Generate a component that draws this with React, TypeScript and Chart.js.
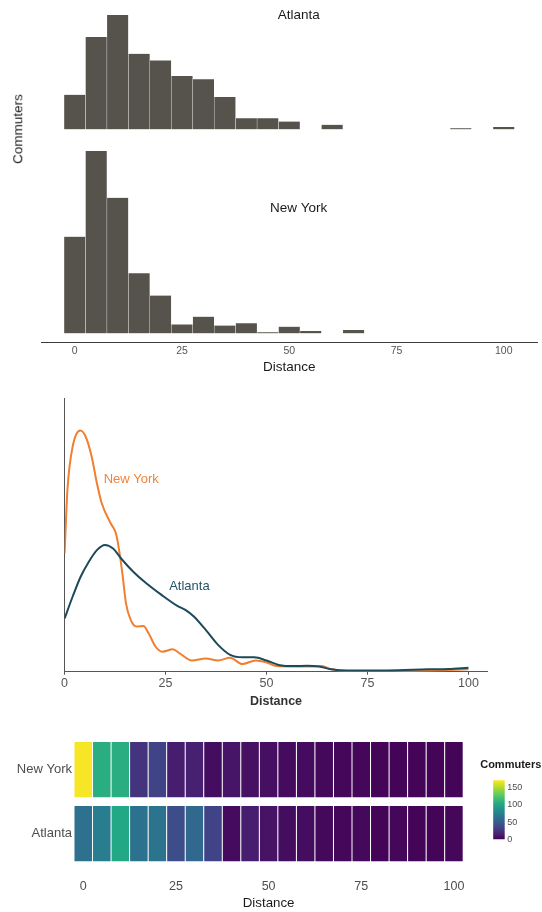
import React, { useEffect, useRef } from 'react';
import { Chart, registerables } from 'chart.js';

Chart.register(...registerables);

const FONT = "'Liberation Sans', Arial, Helvetica, sans-serif";

// ---------- data ----------
const binCenters = [0, 5, 10, 15, 20, 25, 30, 35, 40, 45, 50, 55, 60, 65, 70, 75, 80, 85, 90, 95, 100];
const binWidth = 5;
const atlantaCounts = [31, 83, 103, 68, 62, 48, 45, 29, 10, 10, 7, 0, 4, 0, 0, 0, 0, 0, 1, 0, 2];
const newYorkCounts = [87, 164, 122, 54, 34, 8, 15, 7, 9, 1, 6, 2, 0, 3, 0, 0, 0, 0, 0, 0, 0];

const nyDistance = [0, 0.7, 2, 3.9, 5.2, 6.7, 8, 9.2, 11.4, 12.7, 13.5, 14.4, 15.2, 16.4, 17.8, 19.5, 20.8, 22.5, 24.2, 26.8, 28.5, 31.5, 35, 38, 41, 44, 47.3, 50, 52.5, 56.8, 61, 63.6, 66.2, 69.6, 78, 86.7, 95, 100];
const nyDensity = [0.0296, 0.0454, 0.0563, 0.0603, 0.0588, 0.0538, 0.0471, 0.0421, 0.0371, 0.0346, 0.0304, 0.0238, 0.0171, 0.0129, 0.0113, 0.0114, 0.0096, 0.0063, 0.005, 0.0056, 0.0046, 0.0028, 0.0033, 0.0028, 0.0035, 0.0019, 0.0028, 0.0023, 0.0014, 0.0013, 0.0013, 0.0014, 0.0006, 0.0002, 0.0002, 0.0002, 0.0004, 0.0006];
const atlDistance = [0, 2, 4, 6, 8, 10, 12, 14, 17, 20, 24, 28, 30, 32, 35, 38, 41, 44, 47, 50, 53, 57, 60, 63, 66, 70, 80, 90, 95, 100];
const atlDensity = [0.0133, 0.0188, 0.0238, 0.0275, 0.0304, 0.0317, 0.0308, 0.0283, 0.025, 0.0223, 0.0192, 0.0164, 0.0154, 0.0138, 0.0104, 0.0067, 0.0042, 0.0036, 0.0036, 0.0028, 0.0017, 0.0014, 0.0015, 0.0013, 0.0006, 0.0003, 0.0003, 0.0006, 0.0007, 0.001];

const cities = ['New York', 'Atlanta'];
const nyHeat = [170, 107, 107, 26, 34, 14, 15, 6, 10, 8, 7, 5, 5, 4, 3, 3, 2, 2, 2, 2, 2];
const atlHeat = [64, 72, 103, 65, 66, 40, 58, 34, 5, 14, 9, 6, 6, 4, 3, 4, 2, 3, 2, 2, 3];
const heatMax = 172;
const legendTicks = [0, 50, 100, 150];
const distanceTicks = [0, 25, 50, 75, 100];

const VIRIDIS = ['#440154', '#482475', '#414487', '#355f8d', '#2a788e', '#21918c', '#22a884', '#44bf70', '#7ad151', '#bddf26', '#fde725'];

function hexRgb(h: string) {
  return [parseInt(h.slice(1, 3), 16), parseInt(h.slice(3, 5), 16), parseInt(h.slice(5, 7), 16)];
}
function viridis(t: number, alpha = 1) {
  const c = Math.max(0, Math.min(1, t));
  const pos = c * (VIRIDIS.length - 1);
  const i = Math.min(Math.floor(pos), VIRIDIS.length - 2);
  const f = pos - i;
  const a = hexRgb(VIRIDIS[i]);
  const b = hexRgb(VIRIDIS[i + 1]);
  const m = a.map((v, k) => Math.round(v + (b[k] - v) * f));
  return `rgba(${m[0]},${m[1]},${m[2]},${alpha})`;
}

// ---------- plugins ----------
const textLabels = {
  id: 'textLabels',
  afterDatasetsDraw(chart: any, _args: any, opts: any) {
    const items = (opts && opts.items) || [];
    const ctx = chart.ctx;
    ctx.save();
    for (const it of items) {
      ctx.font = it.font;
      ctx.fillStyle = it.color;
      ctx.textAlign = it.align || 'center';
      ctx.textBaseline = 'middle';
      ctx.fillText(it.text, chart.scales.x.getPixelForValue(it.x), chart.scales.y.getPixelForValue(it.y));
    }
    ctx.restore();
  },
};

const colorLegend = {
  id: 'colorLegend',
  afterDraw(chart: any) {
    const ctx = chart.ctx;
    const ca = chart.chartArea;
    const x0 = ca.right + 17;
    const barX = ca.right + 30;
    const barW = 11.5;
    const barTop = ca.top + 42.5;
    const barBottom = ca.top + 101.5;
    ctx.save();
    ctx.font = `bold 11px ${FONT}`;
    ctx.fillStyle = '#1a1a1a';
    ctx.textAlign = 'left';
    ctx.textBaseline = 'middle';
    ctx.fillText('Commuters', x0, ca.top + 27.5);
    const g = ctx.createLinearGradient(0, barBottom, 0, barTop);
    for (let i = 0; i < VIRIDIS.length; i++) g.addColorStop(i / (VIRIDIS.length - 1), VIRIDIS[i]);
    ctx.fillStyle = g;
    ctx.fillRect(barX, barTop, barW, barBottom - barTop);
    ctx.font = `9px ${FONT}`;
    ctx.fillStyle = '#4d4d4d';
    for (const v of legendTicks) {
      const y = barBottom - (v / heatMax) * (barBottom - barTop);
      ctx.fillText(String(v), barX + barW + 2.5, y);
    }
    ctx.restore();
  },
};

Chart.defaults.font.family = FONT;

function histConfig(counts: number[], yMax: number, label: string, labelY: number, showAxis: boolean, padding: any): any {
  return {
    type: 'bar',
    data: {
      datasets: [
        {
          data: binCenters.map((c, i) => ({ x: c, y: counts[i] })),
          backgroundColor: '#55534b',
          borderColor: 'rgba(255,255,255,0.35)',
          borderWidth: { left: 0.5, right: 0.5, top: 0, bottom: 0 },
          barPercentage: 1,
          categoryPercentage: 1,
        },
      ],
    },
    plugins: [textLabels],
    options: {
      responsive: false,
      animation: false,
      events: [],
      layout: { padding },
      plugins: {
        legend: { display: false },
        tooltip: { enabled: false },
        textLabels: { items: [{ text: label, x: 52.2, y: labelY, font: `13.5px ${FONT}`, color: '#1a1a1a' }] },
      },
      scales: {
        x: {
          type: 'linear',
          display: showAxis,
          offset: false,
          min: -7.75,
          max: 107.75,
          afterBuildTicks: (s: any) => { s.ticks = distanceTicks.map((v) => ({ value: v })); },
          afterFit: (s: any) => { s.height = showAxis ? 32.7 : 0; },
          grid: { display: false, drawTicks: false },
          border: { display: true, color: '#3a3a3a', width: 1 },
          ticks: { padding: 2.1, color: '#555', font: { size: 10.5 } },
          title: { display: true, text: 'Distance', color: '#1a1a1a', font: { size: 13.5 }, padding: { top: 0, bottom: 0 } },
        },
        y: { display: false, min: -8.1, max: yMax },
      },
    },
  };
}

function densityConfig(): any {
  return {
    type: 'line',
    data: {
      datasets: [
        {
          label: 'Atlanta',
          data: atlDistance.map((d, i) => ({ x: d, y: atlDensity[i] })),
          borderColor: '#1c4a5a',
          borderWidth: 2,
          pointRadius: 0,
          cubicInterpolationMode: 'monotone',
          fill: false,
        },
        {
          label: 'New York',
          data: nyDistance.map((d, i) => ({ x: d, y: nyDensity[i] })),
          borderColor: '#f07f30',
          borderWidth: 2,
          pointRadius: 0,
          cubicInterpolationMode: 'monotone',
          fill: false,
        },
      ],
    },
    plugins: [textLabels],
    options: {
      responsive: false,
      animation: false,
      events: [],
      layout: { padding: { top: 8.3, left: 64.6, right: 54.6, bottom: 0 } },
      plugins: {
        legend: { display: false },
        tooltip: { enabled: false },
        textLabels: {
          items: [
            { text: 'New York', x: 16.5, y: 0.0481, font: `13px ${FONT}`, color: '#f0843a' },
            { text: 'Atlanta', x: 30.9, y: 0.0214, font: `13px ${FONT}`, color: '#225666' },
          ],
        },
      },
      scales: {
        x: {
          type: 'linear',
          min: 0,
          max: 104.7,
          afterBuildTicks: (s: any) => { s.ticks = distanceTicks.map((v) => ({ value: v })); },
          afterFit: (s: any) => { s.height = 37.3; },
          grid: { display: true, drawOnChartArea: false, drawTicks: true, tickLength: 3, color: '#555' },
          border: { display: true, color: '#555', width: 1 },
          ticks: { padding: 1.1, color: '#555', font: { size: 12.5 } },
          title: { display: true, text: 'Distance', color: '#333', font: { size: 12.5, weight: 'bold' }, padding: { top: 0, bottom: 0 } },
        },
        y: {
          min: 0,
          max: 0.06835,
          afterFit: (s: any) => { s.width = 0; },
          grid: { display: false, drawTicks: false },
          border: { display: true, color: '#555', width: 1 },
          ticks: { display: false },
        },
      },
    },
  };
}

function heatConfig(): any {
  return {
    type: 'bar',
    data: {
      labels: cities,
      datasets: binCenters.map((c, i) => ({
        data: [
          [c - binWidth / 2, c + binWidth / 2],
          [c - binWidth / 2, c + binWidth / 2],
        ],
        backgroundColor: [viridis(nyHeat[i] / heatMax), viridis(atlHeat[i] / heatMax)],
        borderColor: 'rgba(255,255,255,0.25)',
        borderWidth: { left: 0.5, right: 0.5, top: 0, bottom: 0 },
        borderSkipped: false,
        grouped: false,
        barPercentage: 0.867,
        categoryPercentage: 1,
      })),
    },
    plugins: [colorLegend],
    options: {
      indexAxis: 'y',
      responsive: false,
      animation: false,
      events: [],
      layout: { padding: { top: 17.75, left: 0, right: 78.8, bottom: 0.7 } },
      plugins: { legend: { display: false }, tooltip: { enabled: false } },
      scales: {
        x: {
          type: 'linear',
          min: -2.5,
          max: 102.5,
          offset: false,
          afterBuildTicks: (s: any) => { s.ticks = distanceTicks.map((v) => ({ value: v })); },
          afterFit: (s: any) => { s.height = 45.55; },
          grid: { display: false, drawTicks: false },
          border: { display: false },
          ticks: { padding: 13.5, color: '#4d4d4d', font: { size: 12.5 } },
          title: { display: true, text: 'Distance', color: '#1a1a1a', font: { size: 13.3 }, padding: { top: 0, bottom: 0 } },
        },
        y: {
          type: 'category',
          afterFit: (s: any) => { s.width = 74; },
          grid: { display: false, drawTicks: false },
          border: { display: false },
          ticks: { padding: 2, color: '#4d4d4d', font: { size: 13 } },
        },
      },
    },
  };
}

function ChartBox({ top, height, make }: { top: number; height: number; make: () => any }) {
  const ref = useRef<HTMLCanvasElement>(null);
  useEffect(() => {
    const chart = new Chart(ref.current as HTMLCanvasElement, make());
    return () => chart.destroy();
  }, []);
  return (
    <canvas
      ref={ref}
      width={542}
      height={height}
      style={{ position: 'absolute', left: 0, top, width: 542, height, display: 'block' }}
    />
  );
}

export default function App() {
  return (
    <div style={{ position: 'absolute', left: 0, top: 0, width: 542, height: 912, background: '#fff', overflow: 'hidden' }}>
      <ChartBox
        top={0}
        height={140}
        make={() => histConfig(atlantaCounts, 111.9, 'Atlanta', 103, false, { top: 5, bottom: 1.7, left: 41.5, right: 5 })}
      />
      <ChartBox
        top={140}
        height={235}
        make={() => histConfig(newYorkCounts, 169.5, 'New York', 112.5, true, { top: 5, bottom: 0, left: 41.5, right: 5 })}
      />
      <div
        style={{
          position: 'absolute',
          left: 18,
          top: 129,
          transform: 'translate(-50%, -50%) rotate(-90deg)',
          fontFamily: FONT,
          fontSize: 13.5,
          color: '#1a1a1a',
          whiteSpace: 'nowrap',
          lineHeight: 1,
        }}
      >
        Commuters
      </div>
      <ChartBox top={390} height={319} make={densityConfig} />
      <ChartBox top={720} height={192} make={heatConfig} />
    </div>
  );
}
